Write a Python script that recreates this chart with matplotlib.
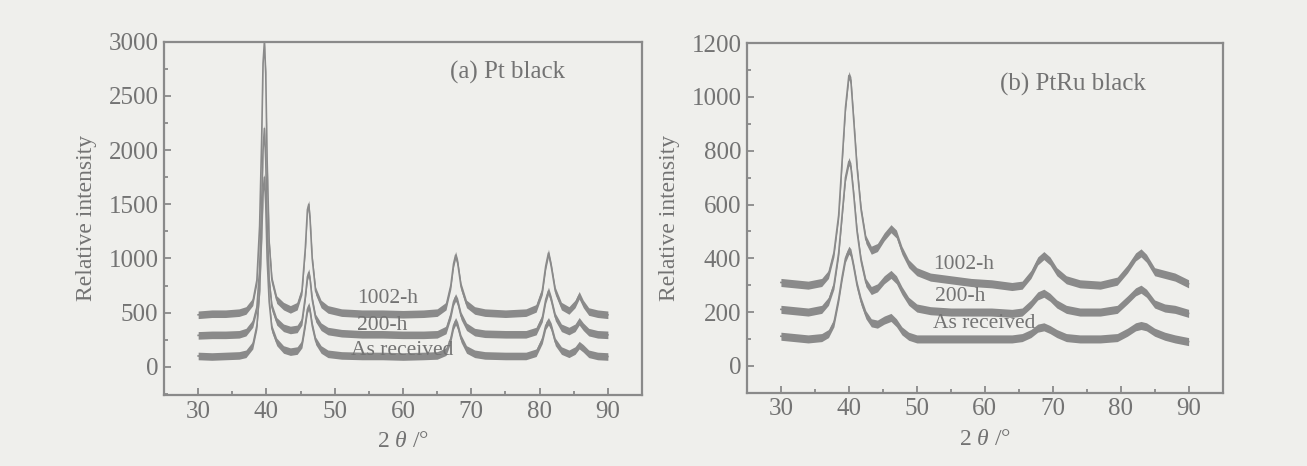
import numpy as np
import matplotlib
matplotlib.use("Agg")
import matplotlib.pyplot as plt
from matplotlib.ticker import MultipleLocator

plt.rcParams["font.family"] = ["Liberation Serif", "DejaVu Serif"]
plt.rcParams["mathtext.fontset"] = "custom"
plt.rcParams["mathtext.it"] = "Liberation Serif:italic"
plt.rcParams["mathtext.rm"] = "Liberation Serif"

# (a) Pt black
two_theta_a = [30, 32, 34, 36, 37, 38, 38.6, 39.0, 39.3, 39.5, 39.7, 39.9, 40.1, 40.4, 40.8,
               41.5, 42.5, 43.5, 44.5, 45.2, 45.7, 46.0, 46.2, 46.4, 46.7, 47.2, 48, 49, 51,
               54, 57, 60, 63, 65, 66.3, 67.0, 67.4, 67.7, 68.0, 68.5, 69.3, 70.5, 72, 75,
               78, 79.5, 80.4, 80.9, 81.3, 81.7, 82.3, 83.2, 84.3, 85.2, 85.8, 86.4, 87.2,
               88.5, 90]
pt_1002h = [480, 490, 490, 500, 520, 600, 800, 1300, 2100, 2800, 3000, 2700, 1900, 1150, 800,
            620, 560, 530, 560, 700, 1100, 1450, 1500, 1350, 1000, 700, 580, 530, 500,
            490, 490, 485, 490, 500, 560, 750, 950, 1030, 960, 740, 580, 520, 500, 490,
            500, 540, 700, 930, 1050, 930, 700, 560, 520, 580, 660, 580, 510,
            490, 480]
pt_200h = [290, 295, 295, 300, 320, 400, 550, 900, 1500, 2000, 2200, 1900, 1300, 800, 550,
           420, 360, 340, 350, 420, 650, 830, 870, 800, 620, 450, 370, 330, 310,
           300, 300, 295, 295, 300, 340, 480, 600, 640, 600, 470, 370, 320, 305, 300,
           300, 330, 450, 620, 700, 620, 460, 360, 330, 360, 420, 370, 320,
           300, 295]
pt_asrec = [100, 95, 100, 105, 120, 200, 380, 700, 1200, 1600, 1750, 1500, 1000, 600, 350,
            230, 160, 140, 150, 210, 400, 530, 560, 510, 380, 240, 160, 120, 105,
            100, 100, 95, 100, 105, 140, 260, 380, 420, 380, 260, 160, 120, 105, 100,
            100, 130, 250, 380, 420, 370, 230, 150, 120, 150, 200, 170, 120,
            100, 95]

# (b) PtRu black
two_theta_b = [30, 32, 34, 36, 37, 37.8, 38.5, 39.0, 39.5, 40.0, 40.3, 40.7, 41.2, 41.8, 42.5,
               43.3, 44.2, 45.2, 46.2, 47.0, 47.8, 48.8, 50, 52, 55, 58, 61, 64, 65.5, 66.8,
               67.8, 68.7, 69.6, 70.6, 72, 74, 77, 79.5, 81, 82.2, 83.0, 83.8, 85, 86.5, 88, 90]
ptru_1002h = [310, 305, 300, 310, 340, 420, 560, 760, 960, 1080, 1060, 920, 740, 580, 470,
              430, 440, 480, 510, 490, 430, 380, 350, 330, 320, 310, 305, 295, 300, 340,
              390, 410, 390, 350, 320, 305, 300, 315, 360, 405, 420, 400, 350, 340, 330, 305]
ptru_200h = [210, 205, 200, 210, 240, 300, 420, 560, 700, 760, 740, 640, 500, 390, 310,
             280, 290, 320, 340, 320, 280, 240, 215, 205, 200, 200, 200, 195, 200, 230,
             260, 270, 255, 230, 210, 200, 200, 210, 245, 275, 285, 270, 230, 215, 210, 195]
ptru_asrec = [110, 105, 100, 105, 120, 160, 250, 330, 400, 430, 420, 370, 300, 240, 190,
              160, 155, 170, 180, 160, 130, 110, 100, 100, 100, 100, 100, 100, 105, 120,
              140, 145, 135, 120, 105, 100, 100, 105, 125, 145, 150, 145, 125, 110, 100, 90]

labels = ["1002-h", "200-h", "As received"]

bg = "#efefec"
line_c = "#8a8a8a"
text_c = "#737373"

fig = plt.figure(figsize=(13.07, 4.66), dpi=100, facecolor=bg)
ax_a = fig.add_axes([0.1255, 0.1524, 0.3657, 0.758])
ax_b = fig.add_axes([0.5715, 0.1573, 0.3639, 0.750])


def draw_panel(ax, x, series, band, ylim, ymaj, ymin, title, title_xy, label_xy):
    ax.set_facecolor(bg)
    x = np.array(x)
    for y in series:
        y = np.array(y, dtype=float)
        # scan noise shows as a thick band around each trace
        ax.fill_between(x, y - band, y + band, color=line_c, lw=0)
        ax.plot(x, y, color=line_c, lw=1.2)
    ax.set_xlim(25, 95)
    ax.set_ylim(*ylim)
    ax.xaxis.set_major_locator(MultipleLocator(10))
    ax.xaxis.set_minor_locator(MultipleLocator(5))
    ax.yaxis.set_major_locator(MultipleLocator(ymaj))
    ax.yaxis.set_minor_locator(MultipleLocator(ymin))
    ax.set_xticks(range(30, 91, 10))
    ax.tick_params(which="both", direction="in", color=line_c, labelcolor=text_c,
                   labelsize=18, width=1.3, top=False, right=False)
    ax.tick_params(which="major", length=5, pad=4)
    ax.tick_params(which="minor", length=3)
    for s in ax.spines.values():
        s.set_color(line_c)
        s.set_linewidth(1.6)
    ax.set_ylabel("Relative intensity", fontsize=17, color=text_c, labelpad=8)
    ax.set_xlabel(r"2 $\mathit{\theta}$ /°", fontsize=17, color=text_c, labelpad=6)
    ax.text(title_xy[0], title_xy[1], title, fontsize=18, color=text_c, va="center")
    for lab, (lx, ly) in zip(labels, label_xy):
        ax.text(lx, ly, lab, fontsize=15.5, color=text_c, va="center")


draw_panel(ax_a, two_theta_a, [pt_1002h, pt_200h, pt_asrec], 35, (-260, 3000), 500, 250,
           "(a) Pt black", (66.9, 2720), [(53.3, 634), (53.3, 385), (52.4, 154)])
draw_panel(ax_b, two_theta_b, [ptru_1002h, ptru_200h, ptru_asrec], 15, (-100, 1200), 200, 100,
           "(b) PtRu black", (62.2, 1045), [(52.4, 375), (52.7, 258), (52.4, 156)])

fig.savefig("out.png", dpi=100, facecolor=bg)
